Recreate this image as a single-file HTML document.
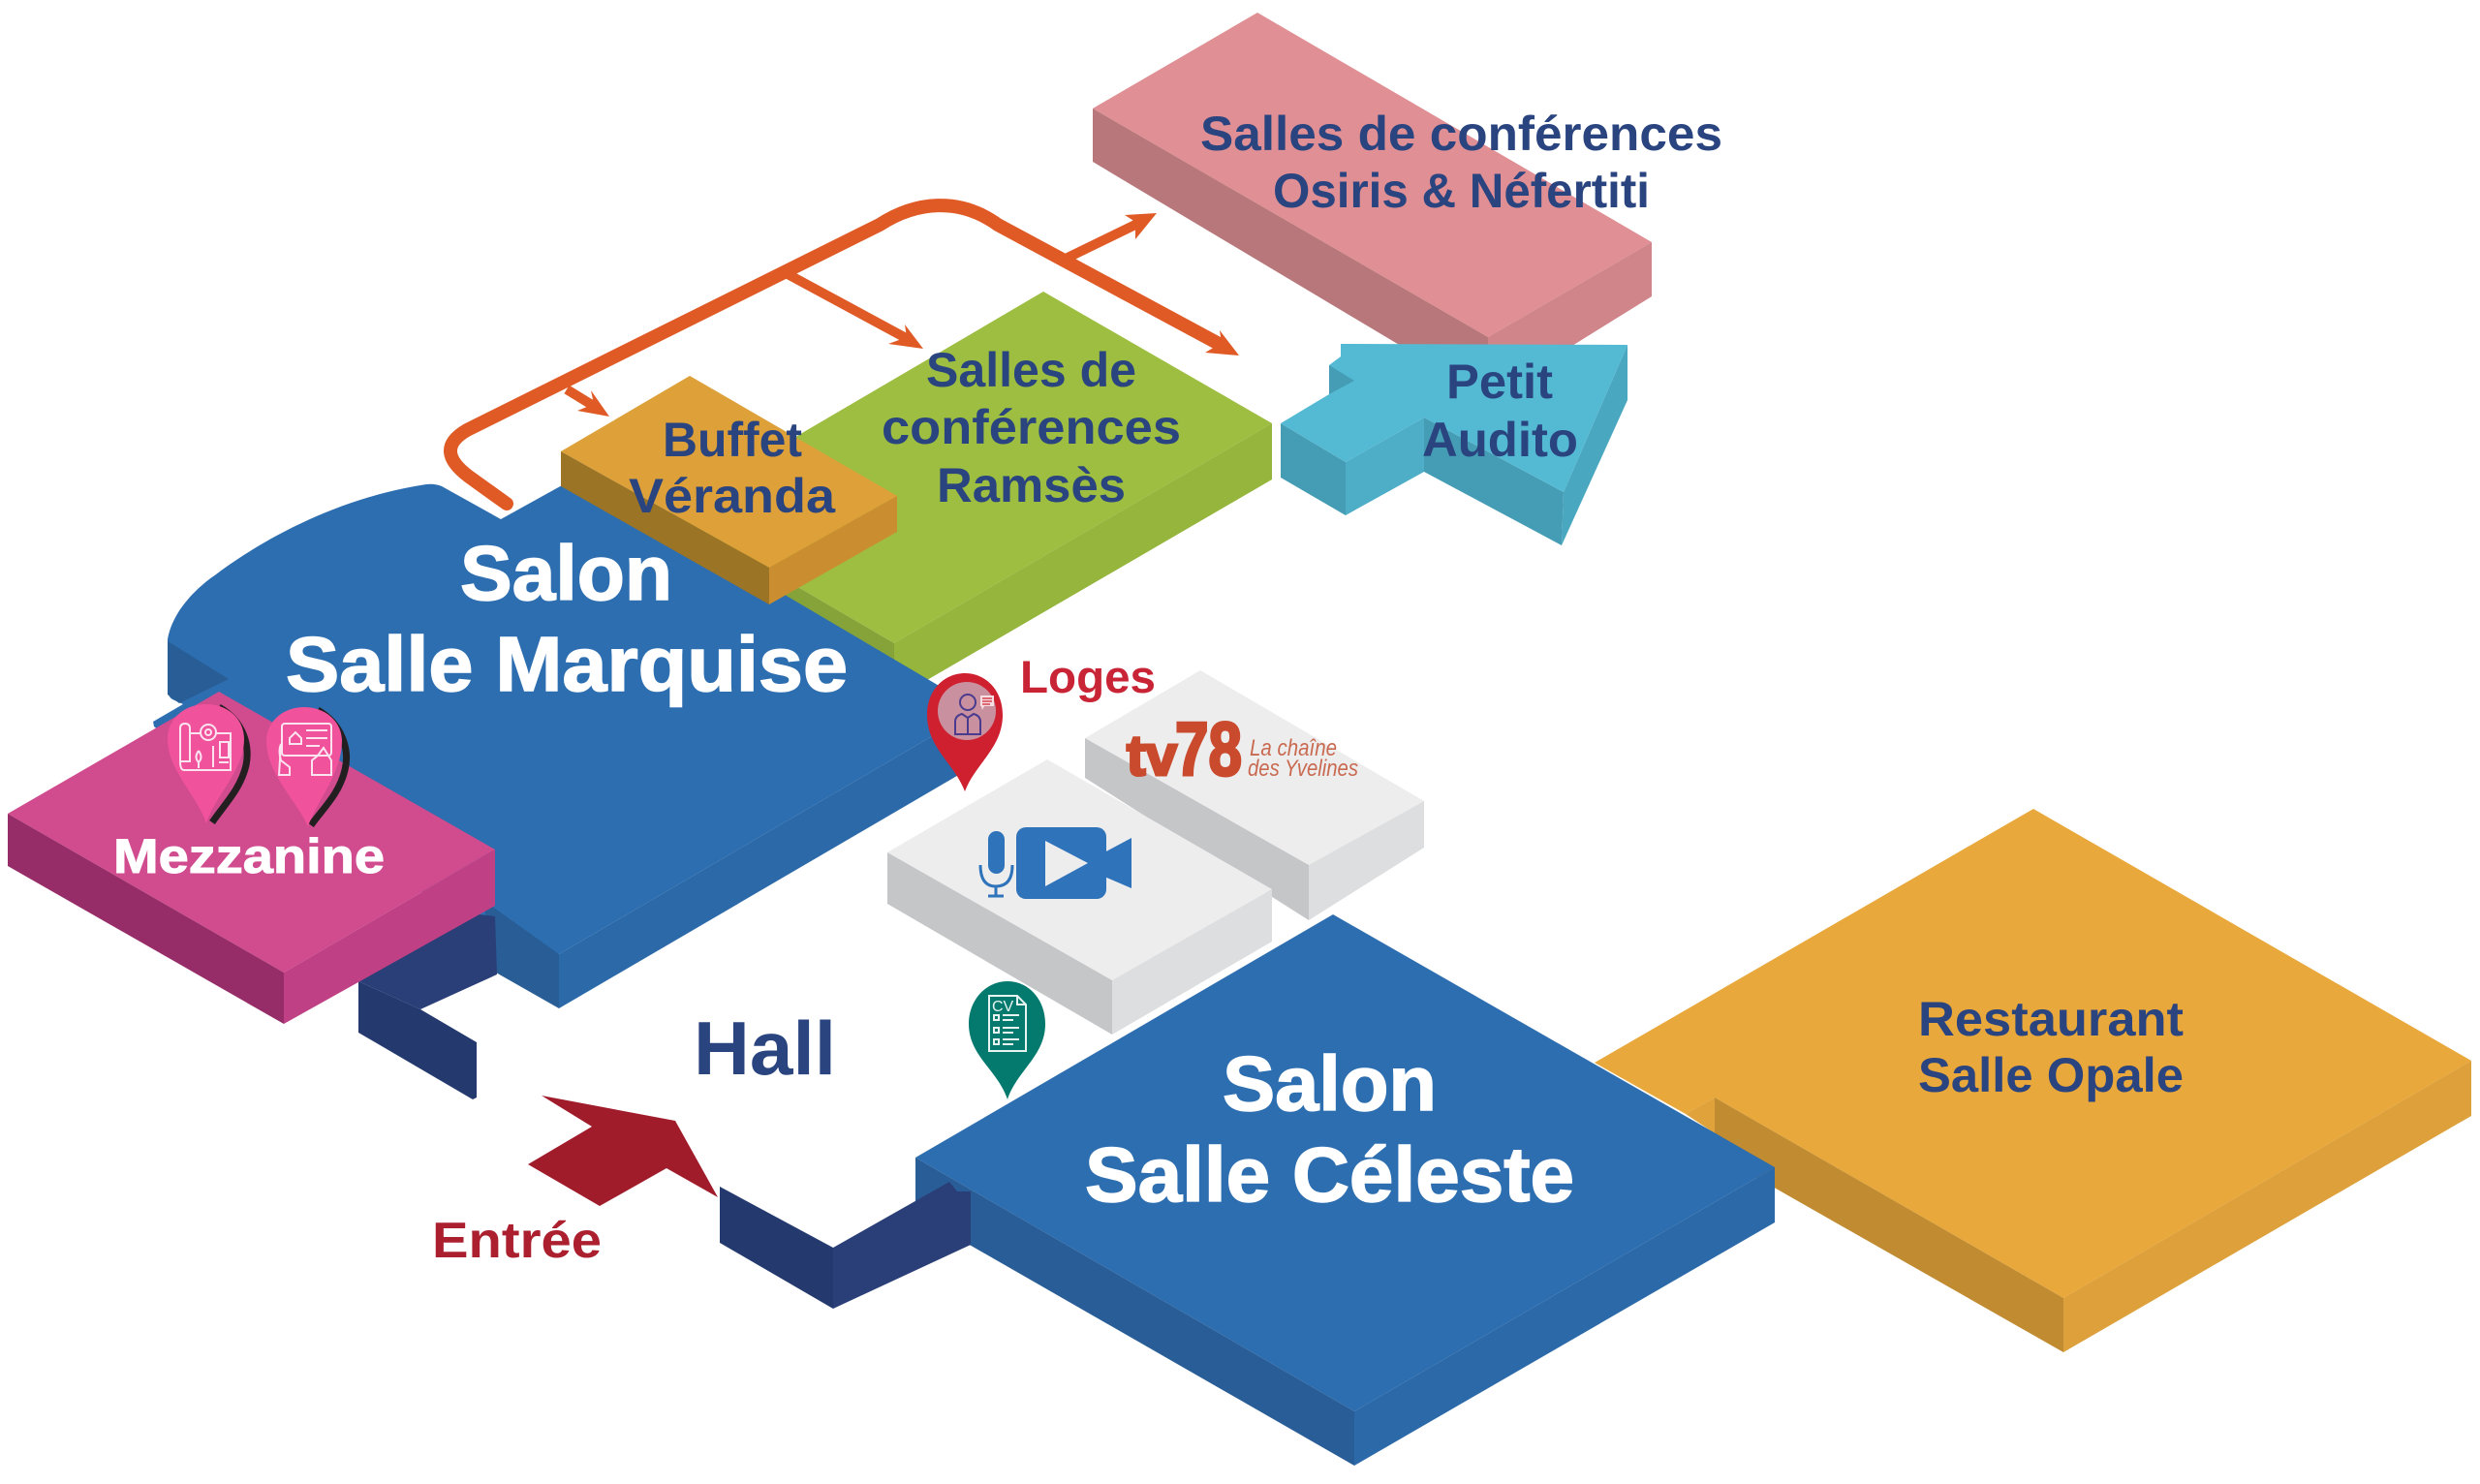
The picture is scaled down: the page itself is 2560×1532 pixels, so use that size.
<!DOCTYPE html>
<html lang="fr">
<head>
<meta charset="utf-8">
<title>Plan</title>
<style>
html,body{margin:0;padding:0;background:#fff;width:2560px;height:1532px;overflow:hidden}
svg{display:block}
text{font-family:"Liberation Sans",sans-serif;font-weight:700}
.b{fill:#2a4480}
.w{fill:#fff;stroke:#fff}
</style>
</head>
<body>
<svg xmlns="http://www.w3.org/2000/svg" width="2560" height="1532" viewBox="0 0 2560 1532">
<rect width="2560" height="1532" fill="#fff"/>

<!-- Restaurant -->
<polygon fill="#e9a83b" points="2099,835 2551,1095 2130,1340 1770,1133 1740,1150 1646,1097"/>
<polygon fill="#e0a23b" points="1770,1133 1740,1150 1770,1170"/>
<polygon fill="#c18c31" points="1770,1133 2130,1340 2130,1396 1770,1191"/>
<polygon fill="#dda03a" points="2130,1340 2551,1095 2551,1152 2130,1396"/>

<!-- Celeste -->
<polygon fill="#2d6eb0" points="1376,944 1832,1205 1398,1457 945,1195"/>
<polygon fill="#295d97" points="945,1195 1398,1457 1398,1513 945,1253"/>
<polygon fill="#2b69a9" points="1398,1457 1832,1205 1832,1262 1398,1513"/>

<!-- Steps near Celeste -->
<polygon fill="#243a6f" points="743,1225 860,1288 860,1351 743,1283"/>
<polygon fill="#2a3f78" points="860,1288 980,1220 988,1230 1002,1230 1002,1285 860,1351"/>

<!-- Pink conference -->
<polygon fill="#e09094" points="1298,13 1705,250 1536,348 1128,112"/>
<polygon fill="#b8777a" points="1128,112 1536,348 1536,360 1451,360 1128,167"/>
<polygon fill="#d0858a" points="1536,348 1705,250 1705,306 1618,360 1536,360"/>

<!-- Petit Audito arrow -->
<polygon fill="#459db5" points="1322,437 1389,477 1389,532 1322,493"/>
<polygon fill="#4eaec8" points="1389,477 1470,431 1470,487 1389,532"/>
<polygon fill="#459db5" points="1470,431 1614,508 1612,563 1470,487"/>
<polygon fill="#4aa7c0" points="1680,356 1680,413 1612,563 1614,508"/>
<polygon fill="#54bad4" points="1384,355 1680,356 1614,508 1470,431 1389,477 1322,437 1372,407 1372,377 1384,368"/>
<polygon fill="#459db5" points="1372,377 1398,393 1372,407"/>

<!-- Ramses -->
<polygon fill="#9dbe40" points="1077,301 1313,437 923,664 690,528"/>
<polygon fill="#86a339" points="690,528 923,664 923,700 690,570"/>
<polygon fill="#95b53c" points="923,664 1313,437 1313,495 957,702 923,700"/>

<!-- Marquise -->
<path fill="#2d6eb0" d="M173,660 C178,630 205,605 223,593 C260,565 340,515 440,500 Q449,499 456,502 L517,536 L600,490 L1010,732 L577,985 L300,860 L159,750 L158,745 L189,727 L178,722 Q173,719 173,712 Z"/>
<polygon fill="#285d96" points="173,662 236,701 185,726 173,717"/>
<polygon fill="#285d96" points="500,930 577,985 577,1041 505,1000"/>
<polygon fill="#2b69a9" points="1010,732 577,985 577,1041 1010,788"/>

<!-- Steps near Marquise -->
<polygon fill="#2a3f78" points="370,1013 478,942 511,946 513,1006 434,1042"/>
<polygon fill="#243a6f" points="370,1013 434,1042 492,1076 492,1133 488,1135 370,1066"/>

<!-- Buffet -->
<polygon fill="#dea039" points="712,388 926,512 794,586 579,466"/>
<polygon fill="#9c7425" points="579,466 794,586 794,624 579,502"/>
<polygon fill="#ca8e30" points="794,586 926,512 926,549 794,624"/>

<!-- Mezzanine -->
<polygon fill="#d14b8f" points="226,714 511,877 293,1004 8,840"/>
<polygon fill="#962d68" points="8,840 293,1004 293,1057 8,894"/>
<polygon fill="#c04085" points="293,1004 511,877 511,935 293,1057"/>

<!-- Orange route -->
<path fill="none" stroke="#e05a26" stroke-width="14" stroke-linecap="round" stroke-linejoin="round" d="M523,520 L484,492 C460,474 458,458 482,444 L908,232 C945,208 990,203 1030,232 L1262,357"/>
<path fill="none" stroke="#e05a26" stroke-width="10" d="M1102,266 L1178,229"/>
<path fill="none" stroke="#e05a26" stroke-width="10" d="M813,283 L937,350"/>
<path fill="none" stroke="#e05a26" stroke-width="10" d="M585,402 L616,421"/>
<polygon fill="#e05a26" points="1279,367 1259,341 1261,354 1244,364"/>
<polygon fill="#e05a26" points="1194,220 1161,222 1172,229 1172,247"/>
<polygon fill="#e05a26" points="953,360 934,335 936,348 917,355"/>
<polygon fill="#e05a26" points="629,430 610,403 613,417 596,424"/>

<!-- Grey blocks -->
<polygon fill="#ededee" points="1239,692 1470,827 1351,893 1120,762"/>
<polygon fill="#c5c6c8" points="1120,762 1351,893 1351,950 1120,803"/>
<polygon fill="#dddedf" points="1351,893 1470,827 1470,875 1351,950"/>
<polygon fill="#ededee" points="1081,784 1313,918 1148,1012 916,880"/>
<polygon fill="#c5c6c8" points="916,880 1148,1012 1148,1068 916,933"/>
<polygon fill="#dddedf" points="1148,1012 1313,918 1313,972 1148,1068"/>

<!-- Video icon -->
<rect x="1049" y="854" width="93" height="74" rx="10" fill="#2f73bb"/>
<polygon points="1140,880 1168,865 1168,917 1140,905" fill="#2f73bb"/>
<polygon points="1079,868 1123,891 1079,915" fill="#ededee"/>
<rect x="1020" y="858" width="17" height="44" rx="8.5" fill="#2f73bb"/>
<path d="M1012,893 Q1012,915 1028,915 Q1045,915 1045,893 M1028,915 V924 M1020,925 H1036" fill="none" stroke="#2f73bb" stroke-width="3"/>

<!-- tv78 logo -->
<text x="1163" y="800" font-size="58" fill="#c94a2c" textLength="52" lengthAdjust="spacingAndGlyphs" stroke="#c94a2c" stroke-width="3">tv</text>
<text x="1213" y="800" font-size="78" fill="#c94a2c" textLength="69" lengthAdjust="spacingAndGlyphs" stroke="#c94a2c" stroke-width="3">78</text>
<text x="1290" y="780" font-size="24" fill="#c96a50" style="font-weight:400;font-style:italic" textLength="90" lengthAdjust="spacingAndGlyphs">La chaîne</text>
<text x="1288" y="801" font-size="24" fill="#c96a50" style="font-weight:400;font-style:italic" textLength="114" lengthAdjust="spacingAndGlyphs">des Yvelines</text>

<!-- Loges pin -->
<path fill="#cf2030" d="M996,817 C985,788 957,772 957,738 C957,712 975,695 996,695 C1017,695 1035,712 1035,738 C1035,772 1007,788 996,817Z"/>
<circle cx="998" cy="734" r="30" fill="#c9919f"/>
<g fill="none" stroke="#4a3b8f" stroke-width="2">
<circle cx="999" cy="725" r="8"/>
<path d="M986,758 V745 Q986,739 993,737 L999,741 L1005,737 Q1012,739 1012,745 V758 Z"/>
<path d="M999,741 V758"/>
</g>
<polygon points="1012,718 1026,718 1026,729 1016,729 1014,733 1013,729 1012,729" fill="#f6dfe3"/>
<path d="M1014,721 H1024 M1014,724 H1024 M1014,727 H1022" stroke="#cf2030" stroke-width="1.3"/>

<!-- CV pin -->
<path fill="#047a6f" d="M1040,1135 C1030,1105 1000,1090 1000,1057 C1000,1032 1018,1013 1040,1013 C1062,1013 1079,1032 1079,1057 C1079,1090 1050,1105 1040,1135Z"/>
<path d="M1021,1028 H1050 L1059,1037 V1085 H1021 Z M1050,1028 V1037 H1059" fill="none" stroke="#e6f3f1" stroke-width="2"/>
<text x="1024" y="1044" font-size="16" fill="#e6f3f1" style="font-weight:400">CV</text>
<g fill="none" stroke="#e6f3f1" stroke-width="2">
<rect x="1026" y="1048" width="5" height="5"/><rect x="1026" y="1061" width="5" height="5"/><rect x="1026" y="1073" width="5" height="5"/>
<path d="M1035,1048 H1052 M1035,1053 H1046 M1035,1061 H1052 M1035,1066 H1046 M1035,1073 H1052 M1035,1078 H1046"/>
</g>

<!-- Mezzanine pins -->
<path fill="none" stroke="#231f20" stroke-width="7" d="M226,730 C252,745 258,770 254,790 C248,815 232,830 219,849"/>
<path fill="#f0529c" d="M213,850 C203,820 173,795 173,763 C173,742 190,727 213,727 C235,727 252,742 252,763 C252,795 223,820 213,850Z"/>
<g fill="none" stroke="#fbe3ef" stroke-width="2">
<path d="M186,752 Q186,747 191,747 Q196,747 196,752 V786 H186 Z M196,757 H238 V795 H190 Q186,795 186,786"/>
<circle cx="215" cy="756" r="8" fill="#f0529c"/>
<circle cx="215" cy="756" r="3"/>
<path d="M205,775 Q200,782 205,787 Q210,782 205,775 M205,787 V793 M220,770 V792 M226,787 H236 M227,766 H236 V782 H227 Z"/>
</g>
<path fill="none" stroke="#231f20" stroke-width="7" d="M328,733 C354,748 361,775 356,795 C350,820 333,835 321,852"/>
<path fill="#f0529c" d="M318,853 C305,825 275,798 275,765 C275,745 292,730 314,730 C336,730 353,745 353,765 C353,798 328,825 318,853Z"/>
<g fill="none" stroke="#fbe3ef" stroke-width="2">
<rect x="291" y="747" width="51" height="33" rx="3"/>
<path d="M299,762 L305,756 L311,762 V768 H299 Z M316,754 H338 M316,762 H338 M316,770 H330"/>
<path d="M290,768 Q287,775 290,785 L299,792 V800 H288 Z M334,772 L328,780 L322,785 V800 H342 V785 Z"/>
</g>

<!-- Entry arrow -->
<polygon fill="#a11c2b" points="559,1131 697,1157 741,1236 688,1206 619,1245 545,1202 611,1163"/>

<!-- Labels -->
<text class="b" x="1239" y="155" font-size="50" textLength="539" lengthAdjust="spacingAndGlyphs">Salles de conférences</text>
<text class="b" x="1314" y="214" font-size="50" textLength="389" lengthAdjust="spacingAndGlyphs">Osiris &amp; Néfertiti</text>
<text class="b" x="956" y="399" font-size="50" textLength="217" lengthAdjust="spacingAndGlyphs">Salles de</text>
<text class="b" x="910" y="458" font-size="50" textLength="309" lengthAdjust="spacingAndGlyphs">conférences</text>
<text class="b" x="967" y="518" font-size="50" textLength="195" lengthAdjust="spacingAndGlyphs">Ramsès</text>
<text class="b" x="1493" y="411" font-size="50" textLength="110" lengthAdjust="spacingAndGlyphs">Petit</text>
<text class="b" x="1468" y="471" font-size="50" textLength="161" lengthAdjust="spacingAndGlyphs">Audito</text>
<text class="b" x="684" y="471" font-size="50" textLength="144" lengthAdjust="spacingAndGlyphs">Buffet</text>
<text class="b" x="649" y="529" font-size="50" textLength="213" lengthAdjust="spacingAndGlyphs">Véranda</text>
<text class="w" stroke-width="1.5" x="475" y="619" font-size="80" textLength="219" lengthAdjust="spacingAndGlyphs">Salon</text>
<text class="w" stroke-width="1.5" x="295" y="713" font-size="80" textLength="580" lengthAdjust="spacingAndGlyphs">Salle Marquise</text>
<text class="w" stroke-width="1" x="117" y="901" font-size="50" textLength="280" lengthAdjust="spacingAndGlyphs">Mezzanine</text>
<text class="b" x="716" y="1109" font-size="78" textLength="147" lengthAdjust="spacingAndGlyphs">Hall</text>
<text x="446" y="1298" font-size="52" fill="#ab1f2e" textLength="175" lengthAdjust="spacingAndGlyphs">Entrée</text>
<text x="1053" y="715" font-size="47" fill="#c92435" textLength="140" lengthAdjust="spacingAndGlyphs">Loges</text>
<text class="w" stroke-width="1.5" x="1262" y="1146" font-size="80" textLength="221" lengthAdjust="spacingAndGlyphs">Salon</text>
<text class="w" stroke-width="1.5" x="1120" y="1240" font-size="80" textLength="505" lengthAdjust="spacingAndGlyphs">Salle Céleste</text>
<text class="b" x="1980" y="1069" font-size="50" textLength="274" lengthAdjust="spacingAndGlyphs">Restaurant</text>
<text class="b" x="1980" y="1127" font-size="50" textLength="274" lengthAdjust="spacingAndGlyphs">Salle Opale</text>
</svg>
</body>
</html>
